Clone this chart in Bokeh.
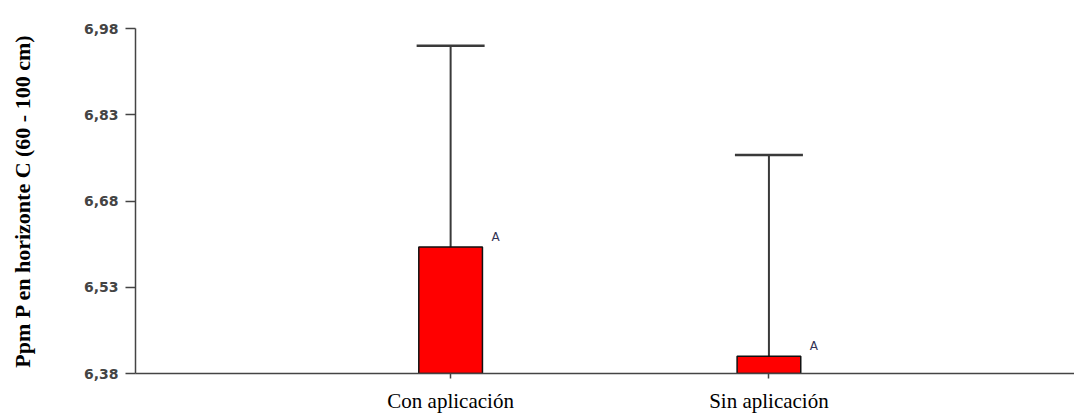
from bokeh.plotting import figure
from bokeh.models import (ColumnDataSource, FixedTicker, CustomJSTickFormatter,
                          Whisker, TeeHead, Range1d)
from bokeh.core.properties import value
from bokeh.embed import file_html
from bokeh.resources import INLINE

# ---- data ----
categories = ["Con aplicación", "Sin aplicación"]
positions = [1, 2]
means = [6.60, 6.41]
errors = [0.35, 0.35]
letters = ["A", "A"]
y_ticks = [6.38, 6.53, 6.68, 6.83, 6.98]
y_min, y_max = 6.38, 6.98

upper = [m + e for m, e in zip(means, errors)]
src = ColumnDataSource(dict(x=positions, mean=means, upper=upper, letter=letters))

p = figure(width=1074, height=415, output_backend="svg", toolbar_location=None,
           x_range=Range1d(0.01, 2.96), y_range=Range1d(y_min, y_max),
           min_border_left=135, min_border_right=0, min_border_top=28,
           min_border_bottom=42)
p.outline_line_color = None
p.xgrid.visible = False
p.ygrid.visible = False
p.background_fill_color = "white"
p.border_fill_color = "white"

# error bars (upper only)
w = Whisker(source=src, base="x", upper="upper", lower="mean", dimension="height",
            line_color="#3a3a3a", line_width=2,
            upper_head=TeeHead(size=68, line_color="#3a3a3a", line_width=2.5),
            lower_head=None, level="underlay")
p.add_layout(w)

p.vbar(x="x", top="mean", bottom=y_min, width=0.2, source=src,
       fill_color="#ff0000", line_color="#111111", line_width=1.5)

p.text(x="x", y="mean", text="letter", source=src, x_offset=45, y_offset=-3,
       text_align="center", text_baseline="bottom",
       text_font=value("DejaVu Sans"), text_font_size="12px", text_color="#333355")

# y axis
ya = p.yaxis[0]
ya.ticker = FixedTicker(ticks=y_ticks)
ya.formatter = CustomJSTickFormatter(code="return tick.toFixed(2).replace('.', ',');")
ya.major_label_text_font = "DejaVu Sans"
ya.major_label_text_font_style = "bold"
ya.major_label_text_font_size = "14px"
ya.major_label_text_color = "#444444"
ya.major_tick_out = 10
ya.major_tick_in = 0
ya.minor_tick_out = 0
ya.minor_tick_in = 0
ya.major_label_standoff = 7
ya.axis_line_color = "#444444"
ya.axis_line_width = 1.5
ya.major_tick_line_color = "#444444"
ya.major_tick_line_width = 1.5
ya.axis_label = "Ppm P en horizonte C (60 - 100 cm)"
ya.axis_label_text_font = "Liberation Serif"
ya.axis_label_text_font_style = "bold"
ya.axis_label_text_font_size = "22px"
ya.axis_label_text_color = "#000000"
ya.axis_label_standoff = 46

# x axis
xa = p.xaxis[0]
xa.ticker = FixedTicker(ticks=positions)
xa.major_label_overrides = {pos: cat for pos, cat in zip(positions, categories)}
xa.major_label_text_font = "Liberation Serif"
xa.major_label_text_font_size = "21px"
xa.major_label_text_color = "#000000"
xa.major_tick_out = 5
xa.major_tick_in = 0
xa.minor_tick_out = 0
xa.minor_tick_in = 0
xa.major_label_standoff = 10
xa.axis_line_color = "#444444"
xa.axis_line_width = 1.5
xa.major_tick_line_color = "#444444"
xa.major_tick_line_width = 1.5

open("out.html", "w").write(file_html(p, INLINE))
